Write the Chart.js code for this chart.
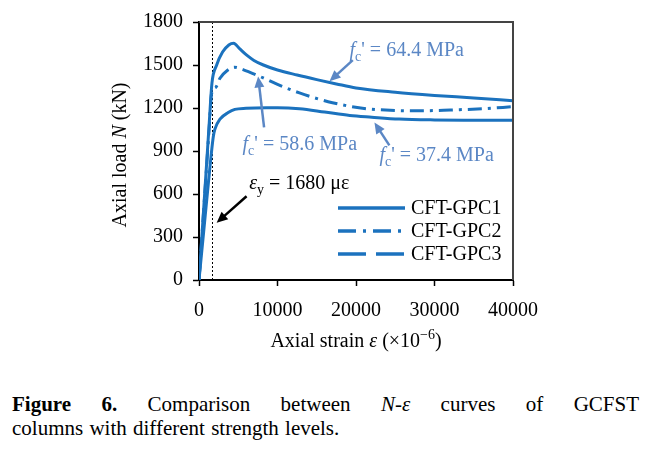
<!DOCTYPE html>
<html><head><meta charset="utf-8">
<script src="https://cdn.jsdelivr.net/npm/chart.js@4/dist/chart.umd.min.js"></script>
<style>
html,body{margin:0;padding:0;background:#fff;}
#wrap{position:relative;width:659px;height:449px;overflow:hidden;}
#c{position:absolute;left:0;top:0;}
#cap{position:absolute;left:12px;top:392px;width:627px;font-family:"Liberation Serif","Times New Roman",serif;font-size:21px;line-height:24px;color:#000;}
.l1{text-align:justify;text-align-last:justify;white-space:nowrap;}
.l2{word-spacing:1px;}
</style></head><body>
<div id="wrap"><canvas id="c" width="659" height="370"></canvas>
<div id="cap"><div class="l1"><b>Figure 6.</b> Comparison between <i>N</i>-<i>ε</i> curves of GCFST</div><div class="l2">columns with different strength levels.</div></div></div>
<script>
// ---- data ----
const seriesNames = ["CFT-GPC1", "CFT-GPC2", "CFT-GPC3"];
const strainGPC1 = [0, 540, 980, 1310, 1650, 2250, 3000, 3800, 4400, 5200, 6000, 7000, 8200, 10000, 12500, 15000, 17500, 20000, 25000, 30000, 35000, 40000];
const loadGPC1   = [0, 450, 820, 1100, 1374, 1500, 1590, 1640, 1652, 1612, 1572, 1532, 1500, 1465, 1430, 1398, 1368, 1340, 1310, 1288, 1270, 1250];
const strainGPC2 = [0, 540, 980, 1310, 1600, 2160, 2670, 3600, 4500, 5600, 7750, 10000, 12800, 17000, 21300, 25000, 27700, 32000, 36100, 40000];
const loadGPC2   = [0, 440, 800, 1070, 1300, 1345, 1408, 1462, 1485, 1468, 1420, 1365, 1305, 1237, 1195, 1183, 1180, 1186, 1195, 1209];
const strainGPC3 = [0, 600, 1200, 1820, 2030, 2670, 3720, 4570, 6000, 8600, 10000, 12800, 16000, 19200, 22000, 25500, 30000, 35000, 40000];
const loadGPC3   = [0, 340, 680, 1000, 1053, 1122, 1168, 1190, 1198, 1202, 1202, 1195, 1172, 1148, 1136, 1123, 1117, 1115, 1114];
const xTicks = [0, 10000, 20000, 30000, 40000];
const yTicks = [0, 300, 600, 900, 1200, 1500, 1800];
const yieldStrain = 1680;

const LINE = '#1B72BE';
const ANN = '#5B87C5';
const FONT = '"Liberation Serif", "Times New Roman", serif';

function pts(xs, ys){ return xs.map((x,i)=>({x:x, y:ys[i]})); }

// annotation definitions (positions in data units)
const notes = [
  {color: ANN, at:[19170,1566], parts:[{t:'f',it:true},{t:'c',sub:true},{t:'\' = 64.4 MPa'}], arrow:[[19590,1534],[16630,1386]]},
  {color: ANN, at:[5550,907],  parts:[{t:'f',it:true},{t:'c',sub:true},{t:'\' = 58.6 MPa'}], arrow:[[8290,1065],[7530,1420]]},
  {color: ANN, at:[22980,831], parts:[{t:'f',it:true},{t:'c',sub:true},{t:'\' = 37.4 MPa'}], arrow:[[24250,939],[22350,1099]]},
  {color: '#000', at:[6390,632], parts:[{t:'ε',it:true},{t:'y',sub:true},{t:' = 1680 με'}], arrow:[[6060,584],[2250,400]]}
];

function richText(ctx, x, y, parts, color, size, align){
  let w = 0;
  const fontOf = p => `${p.it?'italic ':''}${(p.sub||p.sup)?Math.round(size*0.7):size}px ${FONT}`;
  for (const p of parts){ ctx.font = fontOf(p); w += ctx.measureText(p.t).width; }
  let cx = align==='center' ? x - w/2 : x;
  ctx.fillStyle = color; ctx.textBaseline = 'alphabetic'; ctx.textAlign = 'left';
  for (const p of parts){
    ctx.font = fontOf(p);
    const dy = p.sub ? size*0.25 : p.sup ? -size*0.4 : 0;
    ctx.fillText(p.t, cx, y+dy);
    cx += ctx.measureText(p.t).width;
  }
  return w;
}

function arrow(ctx, x1,y1,x2,y2,color,lw,hl,hw){
  const a = Math.atan2(y2-y1,x2-x1);
  ctx.save();
  ctx.strokeStyle = color; ctx.fillStyle = color; ctx.lineWidth = lw; ctx.setLineDash([]);
  ctx.beginPath(); ctx.moveTo(x1,y1); ctx.lineTo(x2 - Math.cos(a)*hl*0.8, y2 - Math.sin(a)*hl*0.8); ctx.stroke();
  ctx.beginPath();
  ctx.moveTo(x2,y2);
  ctx.lineTo(x2 - Math.cos(a)*hl + Math.sin(a)*hw/2, y2 - Math.sin(a)*hl - Math.cos(a)*hw/2);
  ctx.lineTo(x2 - Math.cos(a)*hl - Math.sin(a)*hw/2, y2 - Math.sin(a)*hl + Math.cos(a)*hw/2);
  ctx.closePath(); ctx.fill();
  ctx.restore();
}

const decor = {
  id:'decor',
  beforeDatasetsDraw(chart){
    const {ctx, scales:{x,y}} = chart;
    ctx.save();
    ctx.strokeStyle = '#000'; ctx.lineWidth = 1; ctx.setLineDash([2,2]);
    const px = Math.round(x.getPixelForValue(yieldStrain)) + 0.5;
    ctx.beginPath(); ctx.moveTo(px, y.getPixelForValue(0)); ctx.lineTo(px, y.getPixelForValue(1800)); ctx.stroke();
    ctx.restore();
  },
  afterDraw(chart){
    const {ctx, chartArea:ca, scales:{x,y}} = chart;
    ctx.save();
    ctx.strokeStyle = '#444'; ctx.lineWidth = 2; ctx.setLineDash([]);
    ctx.beginPath(); ctx.moveTo(ca.left, ca.top); ctx.lineTo(ca.right, ca.top); ctx.lineTo(ca.right, ca.bottom); ctx.stroke();
    for (const n of notes){
      richText(ctx, x.getPixelForValue(n.at[0]), y.getPixelForValue(n.at[1]), n.parts, n.color, 20, 'left');
      arrow(ctx, x.getPixelForValue(n.arrow[0][0]), y.getPixelForValue(n.arrow[0][1]),
                 x.getPixelForValue(n.arrow[1][0]), y.getPixelForValue(n.arrow[1][1]), n.color, 2.5, 11, 10);
    }
    const ds = chart.data.datasets;
    const lx1 = ca.right - 175, lx2 = ca.right - 108, tx = ca.right - 102;
    ds.forEach((d,i)=>{
      const ly = ca.top + 186 + i*23;
      ctx.strokeStyle = d.borderColor; ctx.lineWidth = 3.5; ctx.setLineDash(d.legendDash || []);
      ctx.beginPath(); ctx.moveTo(lx1, ly); ctx.lineTo(lx2, ly); ctx.stroke();
      ctx.setLineDash([]);
      ctx.fillStyle = '#000'; ctx.font = `20px ${FONT}`; ctx.textBaseline = 'middle'; ctx.textAlign = 'left';
      ctx.fillText(d.label, tx, ly + 1);
    });
    richText(ctx, (ca.left+ca.right)/2, 347, [{t:'Axial strain '},{t:'ε',it:true},{t:' (×10'},{t:'−6',sup:true},{t:')'}], '#000', 20, 'center');
    ctx.save();
    ctx.translate(126, (ca.top+ca.bottom)/2 + 4);
    ctx.rotate(-Math.PI/2);
    richText(ctx, 0, 0, [{t:'Axial load '},{t:'N',it:true},{t:' (kN)'}], '#000', 20, 'center');
    ctx.restore();
    ctx.restore();
  }
};

const common = {borderColor: LINE, borderWidth: 3, pointRadius: 0, fill: false, cubicInterpolationMode: 'monotone', borderCapStyle:'butt'};

new Chart(document.getElementById('c'), {
  type: 'line',
  data: {
    datasets: [
      Object.assign({label: seriesNames[0], data: pts(strainGPC1, loadGPC1), legendDash: []}, common),
      Object.assign({label: seriesNames[1], data: pts(strainGPC2, loadGPC2), borderDash: [14,6,3,6], legendDash: [18,7,3,7]}, common),
      Object.assign({label: seriesNames[2], data: pts(strainGPC3, loadGPC3), legendDash: [28,10]}, common)
    ]
  },
  options: {
    responsive: false,
    animation: false,
    layout: {padding: {left: 0, right: 146, top: 18, bottom: 0}},
    plugins: {legend: {display: false}, tooltip: {enabled: false}},
    scales: {
      x: {
        type: 'linear', min: 0, max: 40000,
        afterFit(s){ s.height = 90; },
        afterBuildTicks(s){ s.ticks = xTicks.map(v=>({value:v})); },
        grid: {display: true, drawOnChartArea: false, drawTicks: true, tickLength: 6, tickColor: '#000', tickWidth: 1.5},
        border: {display: true, color: '#000', width: 2},
        ticks: {color: '#000', font: {family: FONT, size: 20}, padding: 13, maxRotation: 0, autoSkip: false, callback: v => String(v)}
      },
      y: {
        min: 0, max: 1800,
        afterFit(s){ s.width = 199; },
        afterBuildTicks(s){ s.ticks = yTicks.map(v=>({value:v})); },
        grid: {display: true, drawOnChartArea: false, drawTicks: true, tickLength: 6, tickColor: '#000', tickWidth: 1.5},
        border: {display: true, color: '#000', width: 2},
        ticks: {color: '#000', font: {family: FONT, size: 20}, padding: 10, callback: v => String(v)}
      }
    }
  },
  plugins: [decor]
});
</script>
</body></html>
